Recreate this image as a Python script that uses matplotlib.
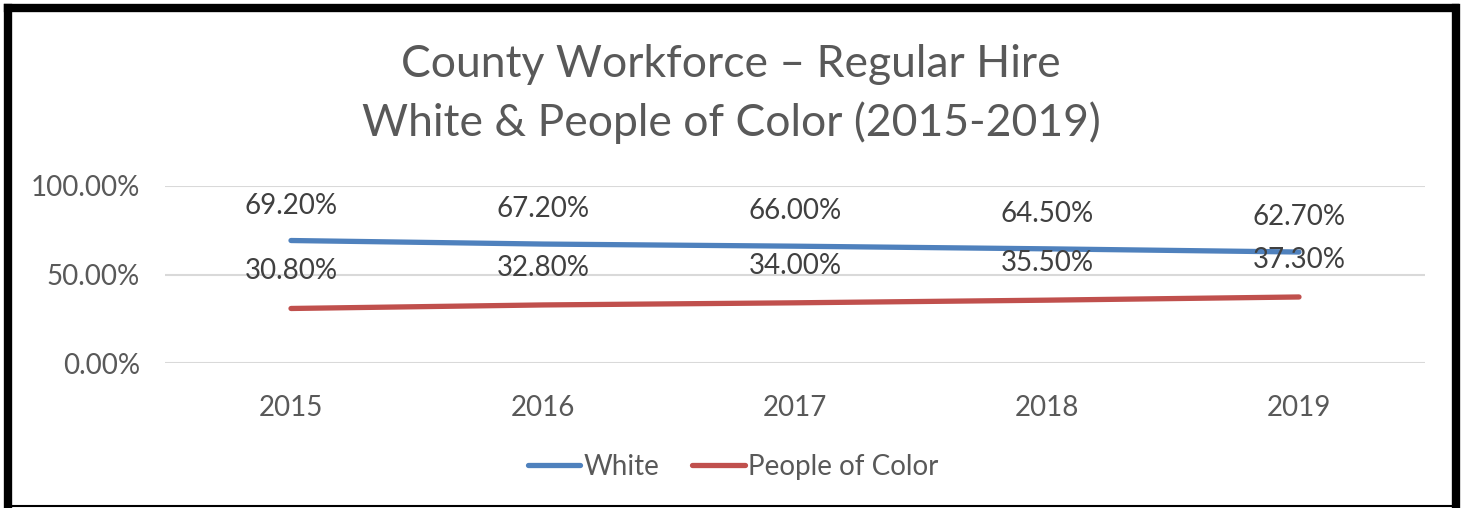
import matplotlib.pyplot as plt
from matplotlib.lines import Line2D

years = ["2015", "2016", "2017", "2018", "2019"]
white = [0.692, 0.672, 0.660, 0.645, 0.627]
poc = [0.308, 0.328, 0.340, 0.355, 0.373]
yticks = [0.0, 0.5, 1.0]

plt.rcParams['font.family'] = ['Lato', 'DejaVu Sans']
grey = "#595959"

fig = plt.figure(figsize=(14.63, 5.08), dpi=100)
ax = fig.add_axes([165 / 1463, 145 / 508, 1260 / 1463, 177 / 508])

x = range(len(years))
ax.plot(x, white, color="#4F81BD", lw=3.8, solid_capstyle="round", label="White")
ax.plot(x, poc, color="#C0504D", lw=3.8, solid_capstyle="round", label="People of Color")

for i in x:
    ax.annotate(f"{white[i]*100:.2f}%", (i, white[i]), xytext=(0, 35), textcoords="offset pixels",
                ha="center", va="center", fontsize=20, color="#404040")
    ax.annotate(f"{poc[i]*100:.2f}%", (i, poc[i]), xytext=(0, 37), textcoords="offset pixels",
                ha="center", va="center", fontsize=20, color="#404040")

ax.set_xlim(-0.5, len(years) - 0.5)
ax.set_ylim(0, 1)
ax.set_yticks(yticks)
ax.set_yticklabels([f"{v*100:.2f}%" for v in yticks])
ax.set_xticks(list(x))
ax.set_xticklabels(years)
ax.grid(axis="y", color="#D9D9D9", lw=1.5)
ax.set_axisbelow(True)
for s in ax.spines.values():
    s.set_visible(False)
ax.tick_params(length=0, labelsize=20, labelcolor=grey)
ax.tick_params(axis="x", pad=23)
ax.tick_params(axis="y", pad=18)

fig.text(731 / 1463, 1 - 94 / 508, "County Workforce – Regular Hire\nWhite & People of Color (2015-2019)",
         ha="center", va="center", fontsize=32, color=grey, linespacing=1.5)

fig.legend(loc="center", bbox_to_anchor=(733 / 1463, 1 - 467 / 508), ncol=2, frameon=False,
           fontsize=20, labelcolor=grey, handlelength=1.9, handletextpad=0.1, columnspacing=1.2)

# black frame: thick on left, top, right; thin on bottom
W, H = 1463, 508
def frame(x0, y0, x1, y1, lw):
    fig.lines.append(Line2D([x0 / W, x1 / W], [1 - y0 / H, 1 - y1 / H], transform=fig.transFigure,
                            color="black", lw=lw, solid_capstyle="projecting"))

frame(7.5, 8, 1455, 8, 6)
frame(7.5, 8, 7.5, 508, 6)
frame(1455.5, 8, 1455.5, 508, 6)
frame(7.5, 506, 1455, 506, 1.5)

fig.savefig("out.png", dpi=100)
